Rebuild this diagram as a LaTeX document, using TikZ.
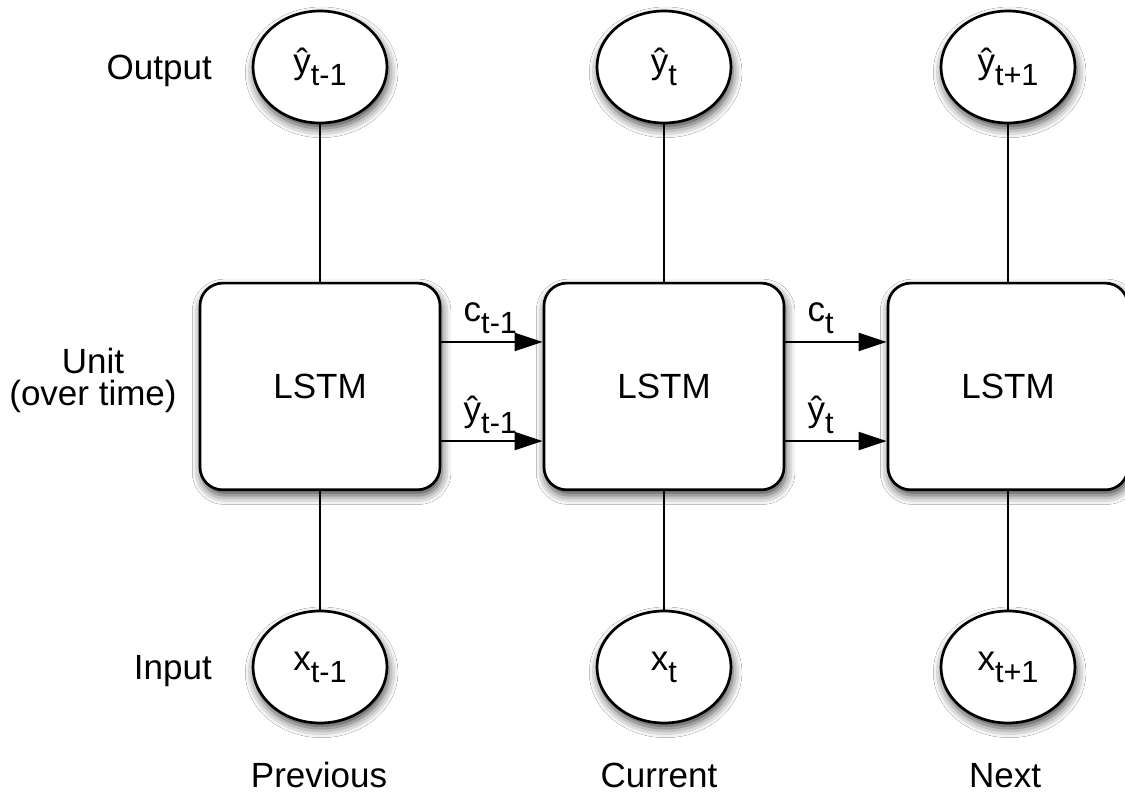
\documentclass[tikz,border=0pt]{standalone}
\usepackage{fontspec}
\setmainfont{Liberation Sans}
\usetikzlibrary{shapes.geometric,arrows.meta,shadows.blur}

% lowered index text (t-1, t, t+1)
\newcommand\sbs[1]{\raisebox{-9pt}{\fontsize{23}{23}\selectfont #1}}

\begin{document}
\begin{tikzpicture}[x=0.75pt,y=-0.75pt,
  every node/.style={font=\fontsize{26.25}{31}\selectfont},
  soft/.style={blur shadow={shadow xshift=1.2pt,shadow yshift=-4pt,shadow blur radius=7pt,shadow opacity=75}},
  lstm/.style={draw,line width=2pt,rounded corners=17pt,fill=white,
    minimum width=180pt,minimum height=155pt,soft},
  io/.style={ellipse,draw,line width=2pt,fill=white,inner sep=0pt,
    minimum width=100.5pt,minimum height=84pt,soft},
  link/.style={line width=1.6pt},
  flow/.style={line width=1.6pt,-{Triangle[length=21pt,width=13.5pt]}},
  flowlbl/.style={anchor=south west,inner sep=0pt,xshift=16pt,yshift=5pt},
  side/.style={anchor=base east,inner sep=0pt},
  step label/.style={anchor=base,inner sep=0pt},
]
\useasboundingbox[fill=white] (0,0) rectangle (1125,798);

% LSTM units over time
\node[lstm] (u1) at (320,386.5) {LSTM};
\node[lstm] (u2) at (664,386.5) {LSTM};
\node[lstm] (u3) at (1008,386.5) {LSTM};

% outputs
\node[io] (o1) at (320,67) {ŷ\sbs{t-1}};
\node[io] (o2) at (664,67) {ŷ\sbs{t}};
\node[io] (o3) at (1008,67) {ŷ\sbs{t+1}};

% inputs
\node[io] (i1) at (320,667) {x\sbs{t-1}};
\node[io] (i2) at (664,667) {x\sbs{t}};
\node[io] (i3) at (1008,667) {x\sbs{t+1}};

% vertical links
\foreach \k in {1,2,3}{
  \draw[link] (o\k) -- (u\k);
  \draw[link] (u\k) -- (i\k);
}

% recurrent state passed forward
\draw[flow] ([yshift=33.4pt]u1.east) -- ([yshift=33.4pt]u2.west)
  node[pos=0,flowlbl] (c1) {c\sbs{t-1}};
\draw[flow] ([yshift=-40.9pt]u1.east) -- ([yshift=-40.9pt]u2.west)
  node[pos=0,flowlbl] (h1) {ŷ\sbs{t-1}};
\draw[flow] ([yshift=33.4pt]u2.east) -- ([yshift=33.4pt]u3.west)
  node[pos=0,flowlbl] (c2) {c\sbs{t}};
\draw[flow] ([yshift=-40.9pt]u2.east) -- ([yshift=-40.9pt]u3.west)
  node[pos=0,flowlbl] (h2) {ŷ\sbs{t}};

% row labels
\node[side] (lout) at (212,80) {Output};
\node[anchor=base,inner sep=0pt] (lunit) at (93,374) {Unit};
\node[anchor=base,inner sep=0pt] (lunit2) at (93,406) {(over time)};
\node[side] (lin) at (212,679) {Input};

% column labels
\node[step label] (prev) at (319,787) {Previous};
\node[step label] (curr) at (659,787) {Current};
\node[step label] (next) at (1005,787) {Next};
\end{tikzpicture}
\end{document}
